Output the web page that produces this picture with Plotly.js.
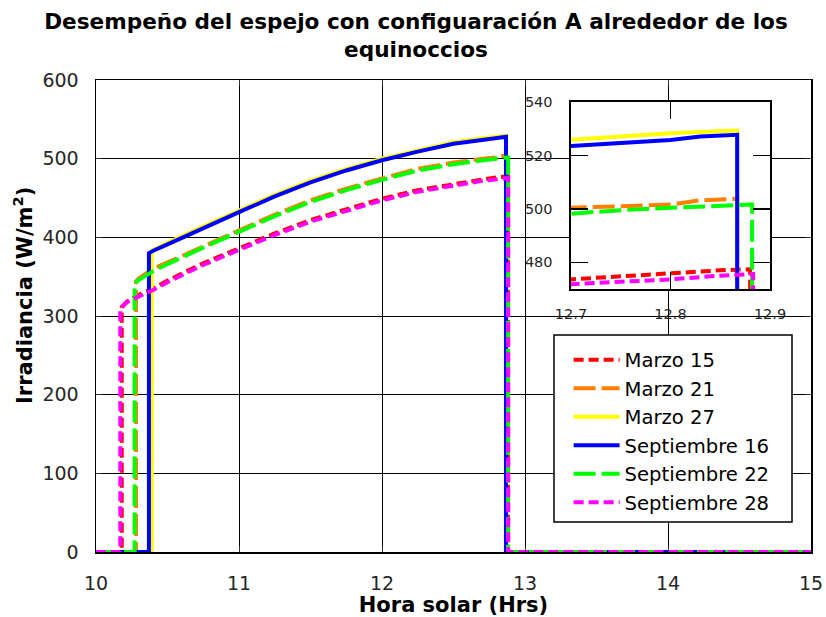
<!DOCTYPE html>
<html>
<head>
<meta charset="utf-8">
<script src="https://cdn.plot.ly/plotly-3.0.1.min.js"></script>
<style>html,body{margin:0;padding:0;background:#fff;}</style>
</head>
<body>
<div id="chart" style="width:826px;height:617px;"></div>
<script>
// ---- Data ----
const seriesNames = ['Marzo 15', 'Marzo 21', 'Marzo 27', 'Septiembre 16', 'Septiembre 22', 'Septiembre 28'];

const marzo15X = [10, 10.18, 10.18, 10.22, 10.3, 10.4, 10.5, 10.75, 11.0, 11.25, 11.5, 11.75, 12.0, 12.25, 12.5, 12.7, 12.75, 12.8, 12.85, 12.88, 12.88, 15];
const marzo15Y = [0, 0, 311, 319, 327, 335, 345, 367, 386, 405, 422, 436, 449, 460, 468, 473.6, 474.8, 476.1, 477, 477.4, 0, 0];

const marzo21X = [10, 10.28, 10.28, 10.3, 10.4, 10.5, 10.75, 11.0, 11.25, 11.5, 11.75, 12.0, 12.25, 12.5, 12.7, 12.75, 12.8, 12.83, 12.867, 12.867, 15];
const marzo21Y = [0, 0, 344, 348, 360, 368, 389, 409, 429, 447, 462, 475, 487, 495, 500.4, 501, 501.6, 503.2, 503.8, 0, 0];

const marzo27X = [10, 10.39, 10.39, 10.4, 10.5, 10.75, 11.0, 11.25, 11.5, 11.75, 12.0, 12.25, 12.5, 12.7, 12.75, 12.8, 12.86, 12.867, 12.867, 15];
const marzo27Y = [0, 0, 383, 384, 393, 414, 434, 454, 472, 487, 500, 511, 521, 526.1, 527.3, 528.3, 529.2, 529.2, 0, 0];

const sept16X = [10, 10.37, 10.37, 10.4, 10.5, 10.75, 11.0, 11.25, 11.5, 11.75, 12.0, 12.25, 12.5, 12.7, 12.75, 12.8, 12.83, 12.86, 12.867, 12.867, 15];
const sept16Y = [0, 0, 380, 383, 391, 412, 432, 452, 470, 485, 498, 509, 519, 523.6, 524.8, 525.8, 527.1, 527.7, 527.7, 0, 0];

const sept22X = [10, 10.27, 10.27, 10.3, 10.4, 10.5, 10.75, 11.0, 11.25, 11.5, 11.75, 12.0, 12.25, 12.5, 12.7, 12.75, 12.8, 12.85, 12.882, 12.882, 15];
const sept22Y = [0, 0, 341.5, 346, 357, 366, 387, 407, 427, 445, 460, 473, 485, 493, 498.2, 499.5, 500.4, 501.3, 501.6, 0, 0];

const sept28X = [10, 10.17, 10.17, 10.22, 10.3, 10.4, 10.5, 10.75, 11.0, 11.25, 11.5, 11.75, 12.0, 12.25, 12.5, 12.7, 12.75, 12.8, 12.85, 12.883, 12.883, 15];
const sept28Y = [0, 0, 310, 318, 325, 333, 343, 365, 384, 403, 420, 434, 447, 458, 466, 471.8, 472.7, 473.6, 475, 475.6, 0, 0];

const mainXTicks = [10, 11, 12, 13, 14, 15];
const mainYTicks = [0, 100, 200, 300, 400, 500, 600];
const insetXTicks = [12.7, 12.8, 12.9];
const insetYTicks = [480, 500, 520, 540];

// ---- Styles ----
const seriesX = [marzo15X, marzo21X, marzo27X, sept16X, sept22X, sept28X];
const seriesY = [marzo15Y, marzo21Y, marzo27Y, sept16Y, sept22Y, sept28Y];
const colors = ['#ff0000', '#ff8000', '#ffff00', '#0000ff', '#00ff00', '#ff00ff'];
const dashes = ['10px,5px', '22px,6px', 'solid', 'solid', '22px,6px', '10px,5px'];

const traces = [];
for (let i = 0; i < seriesNames.length; i++) {
  traces.push({
    x: seriesX[i], y: seriesY[i], name: seriesNames[i], type: 'scatter', mode: 'lines',
    line: {color: colors[i], width: 4, dash: dashes[i]},
    xaxis: 'x', yaxis: 'y', legendgroup: 'g' + i, hoverinfo: 'skip'
  });
}
for (let i = 0; i < seriesNames.length; i++) {
  traces.push({
    x: seriesX[i], y: seriesY[i], name: seriesNames[i], type: 'scatter', mode: 'lines',
    line: {color: colors[i], width: 4, dash: dashes[i]},
    xaxis: 'x2', yaxis: 'y2', showlegend: false, hoverinfo: 'skip'
  });
}

const tickFont = {family: 'DejaVu Sans', size: 19, color: '#262626'};
const titleFont = {family: 'DejaVu Sans', size: 21, color: '#000000', weight: 'bold'};

const layout = {
  width: 826, height: 617,
  margin: {l: 96, r: 15, t: 80, b: 65, pad: 0},
  paper_bgcolor: '#ffffff', plot_bgcolor: '#ffffff',
  font: {family: 'DejaVu Sans', color: '#262626'},
  showlegend: true,
  title: {
    text: 'Desempeño del espejo con configuaración A alrededor de los<br>equinoccios',
    font: {family: 'DejaVu Sans', size: 21.6, color: '#000000', weight: 'bold'},
    x: 0.5036, xanchor: 'center', xref: 'container',
    y: 0.953, yanchor: 'top', yref: 'container'
  },
  xaxis: {
    range: [10, 15], domain: [0, 1], tickvals: mainXTicks, ticktext: mainXTicks.map(String),
    showgrid: true, gridcolor: '#000000', gridwidth: 1,
    showline: true, linecolor: '#000000', linewidth: 1.5, mirror: 'ticks',
    ticks: 'inside', ticklen: 6, tickcolor: '#333333', tickfont: tickFont,
    ticklabelstandoff: 14, zeroline: false, automargin: false,
    title: {text: 'Hora solar (Hrs)', font: titleFont, standoff: 3}
  },
  yaxis: {
    range: [0, 600], domain: [0, 1], tickvals: mainYTicks, ticktext: mainYTicks.map(String),
    showgrid: true, gridcolor: '#000000', gridwidth: 1,
    showline: true, linecolor: '#000000', linewidth: 1.5, mirror: 'ticks',
    ticks: 'inside', ticklen: 6, tickcolor: '#333333', tickfont: tickFont,
    ticklabelstandoff: 12, zeroline: false, automargin: false
  },
  xaxis2: {
    domain: [0.6643, 0.9427], anchor: 'y2', range: [12.7, 12.9],
    tickvals: insetXTicks, ticktext: ['12.7', '12.8', '12.9'],
    showgrid: false, showline: true, linecolor: '#000000', linewidth: 1.5, mirror: 'ticks',
    ticks: 'inside', ticklen: 17, tickcolor: '#000000', tickwidth: 1.5,
    tickfont: {family: 'DejaVu Sans', size: 14.5, color: '#262626'},
    ticklabelstandoff: 11, zeroline: false, automargin: false
  },
  yaxis2: {
    domain: [0.5572, 0.9534], anchor: 'x2', range: [470, 540],
    tickvals: insetYTicks, ticktext: insetYTicks.map(String),
    showgrid: false, showline: true, linecolor: '#000000', linewidth: 1.5, mirror: 'ticks',
    ticks: 'inside', ticklen: 17, tickcolor: '#000000', tickwidth: 1.5,
    tickfont: {family: 'DejaVu Sans', size: 14.5, color: '#262626'},
    ticklabelstandoff: 14, zeroline: false, automargin: false
  },
  legend: {
    x: 0.661, y: 0.448, xanchor: 'left', yanchor: 'top', xref: 'paper', yref: 'paper',
    bgcolor: 'rgba(0,0,0,0)', borderwidth: 0, itemwidth: 46,
    font: {family: 'DejaVu Sans', size: 19.6, color: '#000000'},
    tracegroupgap: 0, traceorder: 'normal'
  },
  shapes: [{
    type: 'rect', xref: 'paper', yref: 'paper', layer: 'above',
    x0: (554 - 96) / 715, x1: (792 - 96) / 715, y0: (552 - 522) / 472, y1: (552 - 335) / 472,
    fillcolor: '#ffffff', line: {color: '#000000', width: 1.5}
  }],
  annotations: [{
    text: 'Irradiancia (W/m<sup>2</sup>)', xref: 'paper', yref: 'paper',
    x: (23 - 96) / 715, y: (552 - 296) / 472, xanchor: 'center', yanchor: 'middle',
    textangle: -90, showarrow: false, font: titleFont
  }]
};

Plotly.newPlot('chart', traces, layout, {displayModeBar: false, staticPlot: true});
</script>
</body>
</html>
